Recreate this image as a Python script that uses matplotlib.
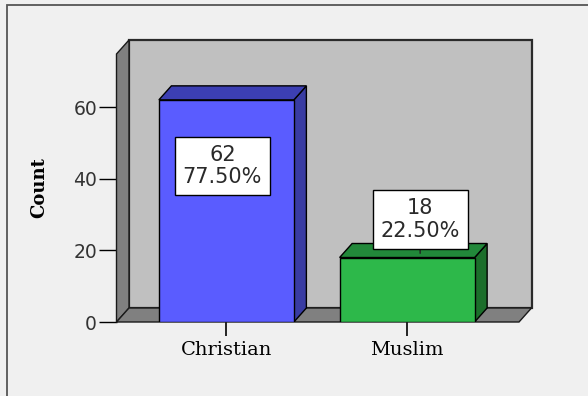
import matplotlib.pyplot as plt
from matplotlib.patches import Polygon, Rectangle

# counts by religion
categories = ['Christian', 'Muslim']
counts = [62, 18]
percents = [77.50, 22.50]
y_ticks = [0, 20, 40, 60]

front_colors = ['#5a5cff', '#2db84a']
side_colors = ['#393ca3', '#1c6e2b']
top_colors = ['#3c3fb3', '#22883a']

fig = plt.figure(figsize=(5.88, 3.96), dpi=100, facecolor='#f0f0f0')
ax = fig.add_axes([116.5 / 588, 74 / 396, 402.5 / 588, 268 / 396])
ax.set_facecolor('none')

x0, x1 = -0.608, 1.619
ymax = 74.8
ax.set_xlim(x0, x1)
ax.set_ylim(0, ymax)

# depth of the 3D box in data units (about 12.5 px right, 14 px up)
px_x = (x1 - x0) / 402.5
px_y = ymax / 268
DX = 12.5 * px_x
DY = 14 * px_y

# walls and floor
ax.add_patch(Rectangle((x0 + DX, DY), x1 - x0, ymax, facecolor='#c0c0c0',
                       edgecolor='#2a2a2a', lw=1.6, clip_on=False, zorder=1))
ax.add_patch(Polygon([(x0, 0), (x0, ymax), (x0 + DX, ymax + DY), (x0 + DX, DY)],
                     closed=True, facecolor='#808080', edgecolor='#1a1a1a',
                     lw=1, clip_on=False, zorder=2))
ax.add_patch(Polygon([(x0, 0), (x1, 0), (x1 + DX, DY), (x0 + DX, DY)],
                     closed=True, facecolor='#808080', edgecolor='#1a1a1a',
                     lw=1, clip_on=False, zorder=2))

width = 135 * px_x
xs = list(range(len(categories)))
for i, (x, h) in enumerate(zip(xs, counts)):
    left, right = x - width / 2, x + width / 2
    ax.add_patch(Polygon([(right, 0), (right, h), (right + DX, h + DY), (right + DX, DY)],
                         closed=True, facecolor=side_colors[i], edgecolor='black',
                         lw=1, zorder=3))
    ax.add_patch(Polygon([(left, h), (right, h), (right + DX, h + DY), (left + DX, h + DY)],
                         closed=True, facecolor=top_colors[i], edgecolor='black',
                         lw=1, clip_on=False, zorder=3))
    ax.bar(x, h, width, color=front_colors[i], edgecolor='black', lw=1, zorder=4)

# value labels, offsets relative to each bar
label_off = [(-0.022, 43.6), (0.072, 28.6)]
box = dict(boxstyle='square,pad=0.38', fc='white', ec='black', lw=1)
for i, (dx, ly) in enumerate(label_off):
    lx = xs[i] + dx
    txt = f'{counts[i]}\n{percents[i]:.2f}%'
    if ly > counts[i]:
        # label sits above the bar: short leader line down to the top face
        ax.annotate(txt, xy=(lx, counts[i] + DY * 0.3), xytext=(lx, ly),
                    ha='center', va='center', fontsize=15, family='DejaVu Sans',
                    color='#2a2a2a', linespacing=1.15, bbox=box,
                    arrowprops=dict(arrowstyle='-', lw=1, color='#222222',
                                    shrinkA=0, shrinkB=0),
                    zorder=6)
    else:
        ax.text(lx, ly, txt, ha='center', va='center', fontsize=15,
                family='DejaVu Sans', color='#2a2a2a', linespacing=1.15,
                bbox=box, zorder=6)

for s in ax.spines.values():
    s.set_visible(False)

ax.set_yticks(y_ticks)
ax.tick_params(axis='y', length=13, width=1, pad=1, labelsize=13.5, colors='black',
               labelcolor='#333333')
ax.set_xticks(xs)
ax.set_xticklabels(categories, family='DejaVu Serif', fontsize=14)
ax.tick_params(axis='x', length=10, width=1.2, pad=4, colors='black')
ax.set_ylabel('Count', family='DejaVu Serif', fontweight='bold', fontsize=13)
ax.yaxis.set_label_coords(-0.17, 0.5)

# outer frame
fig.patches.append(Rectangle((6.5 / 588, -0.1), 1.2, 1.1 - 5.5 / 396, transform=fig.transFigure,
                             fill=False, edgecolor='#555555', lw=1.3))

fig.savefig('out.png', dpi=100, facecolor=fig.get_facecolor())
